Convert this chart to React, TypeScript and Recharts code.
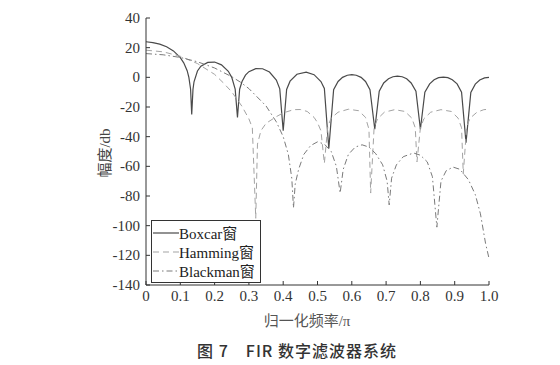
import { LineChart, Line, XAxis, YAxis, Legend } from "recharts";

// #region FIR window response data (normalized frequency / pi, magnitude dB)
const freqTicks = [0, 0.1, 0.2, 0.3, 0.4, 0.5, 0.6, 0.7, 0.8, 0.9, 1.0];
const dbTicks = [40, 20, 0, -20, -40, -60, -80, -100, -120, -140];

const boxcarFreq = [
  0, 0.02, 0.04, 0.06, 0.08, 0.1, 0.11, 0.12, 0.125, 0.13, 0.1333, 0.137, 0.14,
  0.15, 0.16, 0.18, 0.2, 0.22, 0.24, 0.25, 0.26, 0.2667, 0.273, 0.28, 0.29, 0.3,
  0.32, 0.34, 0.36, 0.38, 0.39, 0.4, 0.41, 0.42, 0.44, 0.467, 0.49, 0.51, 0.52,
  0.533, 0.547, 0.56, 0.573, 0.587, 0.6, 0.613, 0.627, 0.64, 0.653, 0.667, 0.68,
  0.693, 0.707, 0.72, 0.733, 0.747, 0.76, 0.773, 0.787, 0.8, 0.813, 0.827, 0.84,
  0.853, 0.867, 0.88, 0.893, 0.907, 0.92, 0.933, 0.947, 0.96, 0.973, 0.987, 1.0,
];
const boxcarDb = [
  24, 23.4, 22.4, 20.6, 17.8, 13.3, 9.8, 4.5, 0, -8, -25, -8, -3, 4.3, 7.5,
  10.1, 10.3, 8.4, 4.1, 0, -8, -27, -8, -2.8, 1.5, 3.8, 5.9, 5.8, 3.6, -1.9,
  -7.8, -36, -8.2, -2.6, 2.1, 3.5, 1.8, -2.8, -7.5, -48, -8.4, -2.8, 0, 1.4,
  1.8, 1.4, 0, -2.8, -8.4, -35, -9.4, -3.8, -1, 0.4, 0.8, 0.4, -1, -3.8, -9.4,
  -35, -10, -4.4, -1.6, -0.2, 0.2, -0.2, -1.6, -4.4, -10, -44, -10.2, -4.6,
  -1.8, -0.4, 0,
];

const hammingFreq = [
  0, 0.05, 0.1, 0.15, 0.2, 0.225, 0.25, 0.28, 0.3, 0.31, 0.32, 0.325, 0.335,
  0.35, 0.38, 0.4, 0.43, 0.45, 0.47, 0.49, 0.5, 0.51, 0.52, 0.53, 0.54, 0.56,
  0.59, 0.62, 0.64, 0.65, 0.655, 0.665, 0.675, 0.695, 0.725, 0.755, 0.775,
  0.785, 0.79, 0.8, 0.81, 0.83, 0.86, 0.89, 0.91, 0.92, 0.925, 0.935, 0.945,
  0.965, 0.985, 1.0,
];
const hammingDb = [
  18.3, 17.2, 14.2, 9.3, 2, -3.6, -9.8, -19.6, -28, -34, -95, -45, -36, -31,
  -26.5, -24, -21.8, -21.7, -23, -27, -30.5, -36, -58, -33, -27.5, -23.5,
  -21.5, -22.5, -27, -35, -78, -34, -28, -23.5, -21.8, -23, -27.5, -34, -57,
  -34, -28, -23.5, -21.8, -23, -27.5, -34, -65, -33, -27.5, -23.5, -21.8, -21.5,
];

const blackmanFreq = [
  0, 0.05, 0.1, 0.15, 0.2, 0.25, 0.275, 0.3, 0.35, 0.38, 0.4, 0.415, 0.425,
  0.43, 0.435, 0.445, 0.46, 0.48, 0.5, 0.52, 0.54, 0.555, 0.566, 0.575, 0.59,
  0.61, 0.63, 0.65, 0.67, 0.69, 0.703, 0.709, 0.716, 0.73, 0.75, 0.78, 0.8,
  0.82, 0.835, 0.848, 0.86, 0.875, 0.895, 0.915, 0.94, 0.96, 0.975, 0.99, 1.0,
];
const blackmanDb = [
  16, 15.2, 13.4, 10.5, 6.3, 0.4, -3.2, -7.6, -19.3, -30, -40, -52, -68, -88,
  -72, -62, -52, -46, -43.5, -45, -50, -60, -78, -62, -52, -47, -45.5, -47,
  -51.5, -59, -70, -86, -68, -59, -53.5, -51, -52.5, -57, -67, -101, -70, -63,
  -60.5, -62, -69, -79, -92, -112, -122,
];
// #endregion

const toPoints = (freq: number[], db: number[]) =>
  freq.map((f, i) => ({ f, db: db[i] }));

const boxcarData = toPoints(boxcarFreq, boxcarDb);
const hammingData = toPoints(hammingFreq, hammingDb);
const blackmanData = toPoints(blackmanFreq, blackmanDb);

const serif = "Liberation Serif, Noto Sans CJK SC, serif";

const series = [
  { name: "Boxcar窗", color: "#4a4a4a", dash: undefined, width: 1.2 },
  { name: "Hamming窗", color: "#a3a3a3", dash: "6 4", width: 1 },
  { name: "Blackman窗", color: "#7a7a7a", dash: "6 3 1.5 3", width: 1 },
];

const XTick = (props: any) => {
  const { x, y, payload } = props;
  const v = payload.value;
  return (
    <text
      x={x}
      y={y}
      dy={11}
      textAnchor='middle'
      fontFamily={serif}
      fontSize={15}
      fill='#333'
    >
      {v === 0 ? "0" : Number(v).toFixed(1)}
    </text>
  );
};

const YTick = (props: any) => {
  const { x, y, payload } = props;
  return (
    <text
      x={x}
      y={y}
      dy={5}
      textAnchor='end'
      fontFamily={serif}
      fontSize={15}
      fill='#333'
    >
      {payload.value}
    </text>
  );
};

const LegendBox = () => (
  <div
    style={{
      border: "1px solid #333",
      background: "#fff",
      width: 108,
      padding: "2px 0",
      fontFamily: serif,
      fontSize: 15,
      color: "#222",
    }}
  >
    {series.map((s) => (
      <div
        key={s.name}
        style={{ display: "flex", alignItems: "center", height: 19 }}
      >
        <svg width={26} height={10} style={{ marginLeft: 1 }}>
          <line
            x1={0}
            y1={5}
            x2={26}
            y2={5}
            stroke={s.color}
            strokeWidth={s.width}
            strokeDasharray={s.dash}
          />
        </svg>
        <span style={{ whiteSpace: "nowrap" }}>{s.name}</span>
      </div>
    ))}
  </div>
);

const FirWindowChart = () => {
  return (
    <div
      style={{
        position: "absolute",
        left: 0,
        top: 0,
        width: 560,
        height: 365,
        background: "#fff",
        fontFamily: serif,
      }}
    >
      <LineChart
        width={560}
        height={365}
        margin={{ top: 18, right: 71, left: 106, bottom: 50 }}
      >
        <XAxis
          type='number'
          dataKey='f'
          domain={[0, 1]}
          ticks={freqTicks}
          tickSize={-4}
          tickMargin={9}
          height={30}
          stroke='#333'
          tick={<XTick />}
          interval={0}
        />
        <XAxis
          xAxisId='top'
          orientation='top'
          type='number'
          dataKey='f'
          domain={[0, 1]}
          ticks={freqTicks}
          tickSize={-4}
          height={0}
          stroke='#333'
          tick={false}
        />
        <YAxis
          type='number'
          domain={[-140, 40]}
          ticks={dbTicks}
          tickSize={-4}
          tickMargin={10}
          width={40}
          stroke='#333'
          tick={<YTick />}
          interval={0}
        />
        <YAxis
          yAxisId='right'
          orientation='right'
          type='number'
          domain={[-140, 40]}
          ticks={dbTicks}
          tickSize={-4}
          width={0}
          stroke='#333'
          tick={false}
        />
        <Legend
          layout='vertical'
          align='center'
          verticalAlign='middle'
          content={() => <LegendBox />}
          wrapperStyle={{ left: 151, top: 220, width: 110 }}
        />
        <Line
          data={boxcarData}
          dataKey='db'
          name='Boxcar窗'
          type='linear'
          stroke={series[0].color}
          strokeWidth={series[0].width}
          dot={false}
          activeDot={false}
          isAnimationActive={false}
        />
        <Line
          data={hammingData}
          dataKey='db'
          name='Hamming窗'
          type='linear'
          stroke={series[1].color}
          strokeWidth={series[1].width}
          strokeDasharray={series[1].dash}
          dot={false}
          activeDot={false}
          isAnimationActive={false}
        />
        <Line
          data={blackmanData}
          dataKey='db'
          name='Blackman窗'
          type='linear'
          stroke={series[2].color}
          strokeWidth={series[2].width}
          strokeDasharray={series[2].dash}
          dot={false}
          activeDot={false}
          isAnimationActive={false}
        />
      </LineChart>
      <div
        style={{
          position: "absolute",
          left: 103,
          top: 153,
          transform: "translate(-50%, -50%) rotate(-90deg)",
          whiteSpace: "nowrap",
          fontSize: 15,
          color: "#444",
        }}
      >
        幅度/db
      </div>
      <div
        style={{
          position: "absolute",
          left: 307,
          top: 319,
          transform: "translate(-50%, -50%)",
          whiteSpace: "nowrap",
          fontSize: 15,
          color: "#555",
        }}
      >
        归一化频率/π
      </div>
      <div
        style={{
          position: "absolute",
          left: 297,
          top: 350,
          transform: "translate(-50%, -50%)",
          whiteSpace: "nowrap",
          fontFamily: "Noto Sans CJK SC, sans-serif",
          fontSize: 16,
          fontWeight: 500,
          letterSpacing: 1,
          color: "#333",
        }}
      >
        图 7{"\u3000"}FIR 数字滤波器系统
      </div>
    </div>
  );
};

export default FirWindowChart;
